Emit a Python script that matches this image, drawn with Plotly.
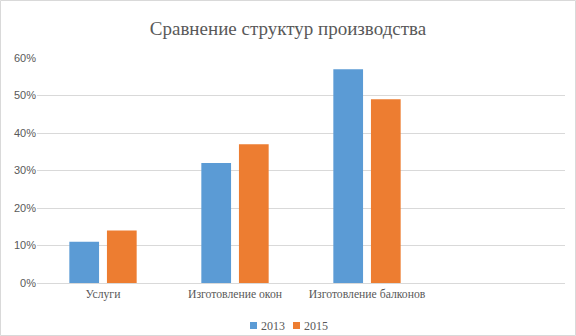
import plotly.graph_objects as go

categories = ["Услуги", "Изготовление окон", "Изготовление балконов"]
years = ["2013", "2015"]
share_2013 = [0.11, 0.32, 0.57]
share_2015 = [0.14, 0.37, 0.49]
y_ticks = [0, 0.1, 0.2, 0.3, 0.4, 0.5, 0.6]

colors = ["#5B9BD5", "#ED7D31"]
serif = "'Liberation Serif', 'Times New Roman', serif"
sans = "'Liberation Sans', Arial, sans-serif"
text_color = "#595959"

W, H = 576, 336
margin = dict(l=37, r=11, t=58, b=53)
pw = W - margin["l"] - margin["r"]
ph = H - margin["t"] - margin["b"]


def px_x(px):
    """Page pixel column -> paper x."""
    return (px - margin["l"]) / pw


def px_y(py):
    """Page pixel row -> paper y."""
    return (H - py - margin["b"]) / ph


fig = go.Figure()
for name, vals, col in zip(years, [share_2013, share_2015], colors):
    fig.add_trace(go.Bar(x=categories, y=vals, name=name, marker_color=col,
                         marker_line_width=0, showlegend=False))

# outer chart border
fig.add_shape(type="rect", xref="paper", yref="paper",
              x0=px_x(0.5), x1=px_x(W - 0.5), y0=px_y(H - 0.5), y1=px_y(0.5),
              line=dict(color="#d9d9d9", width=1), fillcolor="rgba(0,0,0,0)")

# compact legend below the axis: small square swatch followed by the year
legend_x = [250, 293]
for x0, name, col in zip(legend_x, years, colors):
    fig.add_shape(type="rect", xref="paper", yref="paper",
                  x0=px_x(x0), x1=px_x(x0 + 7), y0=px_y(329), y1=px_y(322),
                  line=dict(width=0), fillcolor=col)
    fig.add_annotation(text=name, xref="paper", yref="paper",
                       x=px_x(x0 + 9), y=px_y(325.5), xanchor="left",
                       yanchor="middle", showarrow=False,
                       font=dict(size=12, color=text_color, family=serif))

fig.update_layout(
    width=W, height=H, margin=margin,
    paper_bgcolor="white", plot_bgcolor="white",
    font=dict(family=serif, color=text_color, size=12),
    title=dict(text="Сравнение структур производства", x=0.5, xanchor="center",
               y=1 - 28 / H, yanchor="middle",
               font=dict(size=19, color=text_color, family=serif)),
    barmode="group", bargap=0.43, bargroupgap=0.21,
    showlegend=False,
    xaxis=dict(type="category", range=[-0.5, 3.5], showgrid=False,
               showline=True, linecolor="#d9d9d9", linewidth=1,
               ticks="", automargin=False,
               tickfont=dict(size=11.7, color=text_color, family=serif)),
    yaxis=dict(range=[0, 0.6], tickvals=y_ticks, tickformat=".0%",
               showgrid=True, gridcolor="#d9d9d9", gridwidth=1,
               zeroline=False, showline=False, ticks="", automargin=False,
               tickfont=dict(size=11, color=text_color, family=sans)),
)

fig.write_html("out.html")
